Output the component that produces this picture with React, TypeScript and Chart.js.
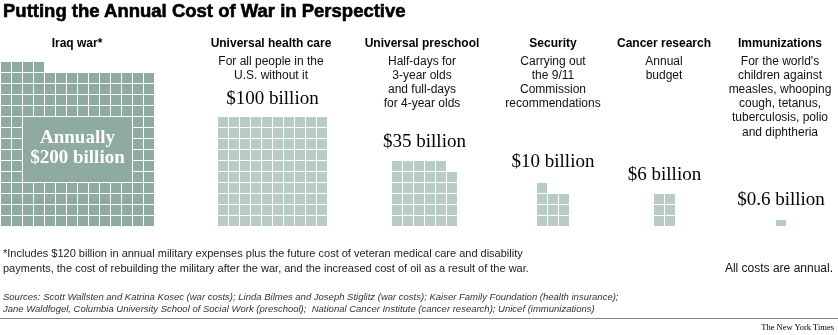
import React, { useEffect, useRef } from "react";
import { Chart, registerables } from "chart.js";

Chart.register(...registerables);

// ---------- data ----------
const categories = [
  "Iraq war*",
  "Universal health care",
  "Universal preschool",
  "Security",
  "Cancer research",
  "Immunizations",
];
const costBillions = [200, 100, 35, 10, 6, 0.6];
const valueLabels = ["", "$100 billion", "$35 billion", "$10 billion", "$6 billion", "$0.6 billion"];
const iraqLabelLines = ["Annually", "$200 billion"];
const descriptions = [
  [],
  ["For all people in the", "U.S. without it"],
  ["Half-days for", "3-year olds", "and full-days", "for 4-year olds"],
  ["Carrying out", "the 9/11", "Commission", "recommendations"],
  ["Annual", "budget"],
  ["For the world's", "children against", "measles, whooping", "cough, tetanus,", "tuberculosis, polio", "and diphtheria"],
];
const footnoteLines = [
  "*Includes $120 billion in annual military expenses plus the future cost of veteran medical care and disability",
  "payments, the cost of rebuilding the military after the war, and the increased cost of oil as a result of the war.",
];
const sourceLines = [
  "Sources: Scott Wallsten and Katrina Kosec (war costs); Linda Bilmes and Joseph Stiglitz (war costs); Kaiser Family Foundation (health insurance);",
  "Jane Waldfogel, Columbia University School of Social Work (preschool);  National Cancer Institute (cancer research); Unicef (immunizations)",
];
const titleText = "Putting the Annual Cost of War in Perspective";
const noteText = "All costs are annual.";
const creditText = "The New York Times";

// ---------- layout (not data) ----------
const W = 838;
const H = 335;
const CELL = 10;
const PITCH = 11;
const GRID_BOTTOM = 226;
const gridColumns = [14, 10, 6, 3, 2, 1];
const gridLeft = [1, 218, 392, 537, 654, 776];
const columnCenter = [77, 271, 422, 553, 664, 780];
const labelBaseline = [0, 104, 147, 167, 180, 205];
// label box inside the Iraq grid: columns 2..11, rows (from bottom) 4..9
const boxCols = [2, 11];
const boxRows = [4, 9];
const DARK = "#8fa9a3";
const LIGHT = "#b9cbc7";

function buildCells(value: number, cols: number, left: number) {
  const pts: { x: number; y: [number, number] }[] = [];
  const full = Math.floor(value);
  const frac = +(value - full).toFixed(3);
  const place = (i: number, h: number) => {
    const row = Math.floor(i / cols);
    const col = i % cols;
    const bottom = GRID_BOTTOM - row * PITCH;
    pts.push({ x: left + col * PITCH + CELL / 2, y: [bottom - h, bottom] });
  };
  for (let i = 0; i < full; i++) place(i, CELL);
  if (frac > 0) place(full, frac * CELL);
  return pts;
}

export default function App() {
  const ref = useRef<HTMLCanvasElement | null>(null);

  useEffect(() => {
    document.body.style.margin = "0";
    const canvas = ref.current;
    if (!canvas) return;
    const boxLeft = gridLeft[0] + boxCols[0] * PITCH;
    const boxRight = gridLeft[0] + boxCols[1] * PITCH + CELL;
    const boxTop = GRID_BOTTOM - boxRows[1] * PITCH - CELL;
    const boxBottom = GRID_BOTTOM - boxRows[0] * PITCH;
    const datasets: any[] = [
      {
        label: "label box",
        data: [{ x: (boxLeft + boxRight) / 2, y: [boxTop, boxBottom] }],
        backgroundColor: DARK,
        barThickness: boxRight - boxLeft,
        grouped: false,
        inflateAmount: 0,
        borderWidth: 0,
      },
      ...categories.map((c, i) => ({
        label: c,
        data: buildCells(costBillions[i], gridColumns[i], gridLeft[i]),
        backgroundColor: i === 0 ? DARK : LIGHT,
        barThickness: CELL,
        grouped: false,
        inflateAmount: 0,
        borderWidth: 0,
      })),
    ];
    const chart = new Chart(canvas, {
      type: "bar",
      data: { datasets },
      options: {
        animation: false,
        responsive: false,
        events: [],
        layout: { padding: 0 },
        plugins: { legend: { display: false }, tooltip: { enabled: false }, title: { display: false } },
        scales: {
          x: { type: "linear", min: 0, max: W, display: false, offset: false },
          y: { type: "linear", min: 0, max: H, reverse: true, display: false },
        },
      },
    });
    return () => chart.destroy();
  }, []);

  const sans = "'Liberation Sans', Arial, Helvetica, sans-serif";
  const serif = "'Liberation Serif', 'Times New Roman', serif";
  const abs = (s: React.CSSProperties): React.CSSProperties => ({ position: "absolute", whiteSpace: "nowrap", ...s });

  return (
    <div style={{ position: "fixed", left: 0, top: 0, width: W, height: H, background: "#fff", overflow: "hidden", fontFamily: sans }}>
      <canvas ref={ref} width={W} height={H} style={{ position: "absolute", left: 0, top: 0, width: W, height: H }} />
      <div style={abs({ left: 3, top: 0, fontSize: 18.5, lineHeight: "21px", fontWeight: 700, color: "#000", WebkitTextStroke: "0.6px #000" })}>
        {titleText}
      </div>
      {categories.map((c, i) => (
        <div key={"h" + i} style={abs({ left: columnCenter[i] - 100, width: 200, textAlign: "center", top: 35.5, fontSize: 12, lineHeight: "14px", fontWeight: 700, color: "#000" })}>
          {c}
        </div>
      ))}
      {descriptions.map((lines, i) => (
        <div key={"d" + i} style={abs({ left: columnCenter[i] - 100, width: 200, textAlign: "center", top: 53.5, fontSize: 12, lineHeight: "14.2px", color: "#111" })}>
          {lines.map((l, j) => (
            <div key={j}>{l}</div>
          ))}
        </div>
      ))}
      {valueLabels.map((v, i) =>
        v ? (
          <div key={"v" + i} style={abs({ left: gridLeft[i] + (gridColumns[i] * PITCH - 1) / 2 - 100, width: 200, textAlign: "center", top: labelBaseline[i] - 16, fontSize: 19, lineHeight: "19px", fontFamily: serif, color: "#000" })}>
            {v}
          </div>
        ) : null
      )}
      <div style={abs({ left: gridLeft[0] + boxCols[0] * PITCH, width: (boxCols[1] - boxCols[0] + 1) * PITCH - 1, textAlign: "center", top: 126.5, fontSize: 19, lineHeight: "20px", fontFamily: serif, fontWeight: 700, color: "#fff" })}>
        {iraqLabelLines.map((l, j) => (
          <div key={j}>{l}</div>
        ))}
      </div>
      <div style={abs({ left: 3, top: 245.5, fontSize: 11, lineHeight: "15px", color: "#222" })}>
        {footnoteLines.map((l, j) => (
          <div key={j}>{l}</div>
        ))}
      </div>
      <div style={abs({ right: 5, top: 261, fontSize: 12, lineHeight: "14px", color: "#111" })}>{noteText}</div>
      <div style={abs({ left: 3, top: 291, fontSize: 9.5, lineHeight: "12px", fontStyle: "italic", color: "#333" })}>
        {sourceLines.map((l, j) => (
          <div key={j} style={{ whiteSpace: "pre" }}>{l}</div>
        ))}
      </div>
      <div style={abs({ left: 0, top: 318, width: W, height: 1, background: "#888" })} />
      <div style={abs({ right: 4, top: 322, fontSize: 8.5, lineHeight: "10px", fontFamily: serif, color: "#000" })}>{creditText}</div>
    </div>
  );
}
